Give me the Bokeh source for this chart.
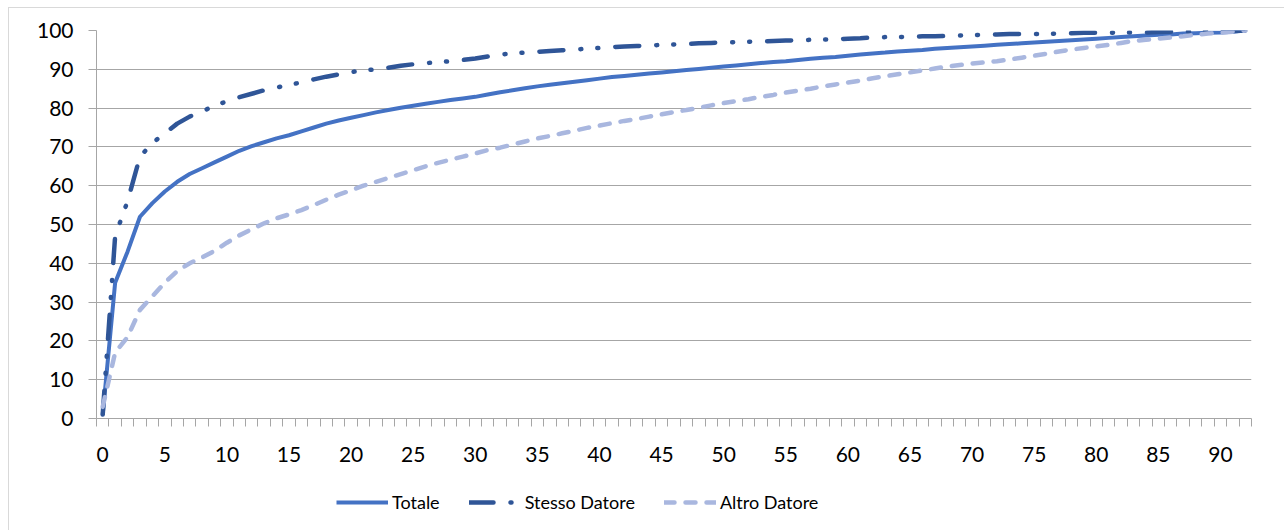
from bokeh.plotting import figure
from bokeh.models import Range1d, FixedTicker, Legend, LegendItem
from bokeh.layouts import column
from bokeh.embed import file_html
from bokeh.resources import INLINE

anni = list(range(0, 93))

totale = [1, 35, 43, 52, 55.5, 58.5, 61, 63, 64.5, 66, 67.5, 69, 70.2, 71.2, 72.2, 73, 74, 75, 76, 76.8,
          77.5, 78.2, 78.9, 79.5, 80.1, 80.6, 81.1, 81.6, 82.1, 82.5, 82.9, 83.5, 84.1, 84.6, 85.1, 85.6, 86, 86.4, 86.8, 87.2,
          87.6, 88, 88.3, 88.6, 88.9, 89.2, 89.5, 89.8, 90.1, 90.4, 90.7, 91, 91.3, 91.6, 91.9, 92.1, 92.4, 92.7, 93, 93.2,
          93.5, 93.8, 94.1, 94.3, 94.6, 94.8, 95, 95.3, 95.5, 95.7, 95.9, 96.1, 96.3, 96.5, 96.7, 96.9, 97.1, 97.3, 97.5, 97.7,
          97.9, 98.1, 98.3, 98.5, 98.7, 98.9, 99, 99.2, 99.3, 99.4, 99.5, 99.7, 100]

stesso_datore = [1, 47, 56, 67.5, 71, 73.5, 76, 77.8, 79.2, 80.5, 81.8, 82.8, 83.7, 84.6, 85.3, 86, 86.6, 87.4, 88.1, 88.7,
                 89.3, 89.7, 90, 90.4, 90.9, 91.3, 91.6, 91.8, 92.1, 92.4, 92.8, 93.3, 93.8, 94.1, 94.3, 94.5, 94.7, 94.9, 95.1, 95.3,
                 95.5, 95.7, 95.9, 96, 96.1, 96.3, 96.4, 96.5, 96.7, 96.8, 96.9, 97, 97.1, 97.2, 97.3, 97.4, 97.5, 97.6, 97.7, 97.7,
                 97.9, 98, 98.2, 98.3, 98.3, 98.4, 98.5, 98.5, 98.6, 98.7, 98.8, 98.9, 99, 99.1, 99.1, 99.1, 99.1, 99.2, 99.3, 99.4,
                 99.4, 99.4, 99.5, 99.5, 99.5, 99.6, 99.7, 99.7, 99.7, 99.8, 99.8, 99.9, 100]

altro_datore = [3, 17, 21, 28, 31.5, 35, 38, 40, 41.5, 43.2, 45.3, 47.2, 48.8, 50.3, 51.6, 52.6, 53.7, 55, 56.4, 57.7,
                58.8, 60, 61, 62, 63, 64, 65, 65.9, 66.7, 67.5, 68.3, 69.2, 69.8, 70.6, 71.4, 72.2, 72.8, 73.5, 74.2, 74.9,
                75.5, 76.1, 76.7, 77.2, 77.8, 78.4, 79, 79.5, 80.1, 80.7, 81.3, 81.8, 82.3, 82.9, 83.4, 84, 84.5, 85, 85.6, 86.1,
                86.6, 87.1, 87.7, 88.2, 88.7, 89.2, 89.7, 90.2, 90.7, 91.1, 91.5, 91.8, 92.1, 92.5, 93, 93.5, 94, 94.6, 95.1, 95.5,
                95.9, 96.3, 96.8, 97.3, 97.6, 97.9, 98.2, 98.5, 98.9, 99.2, 99.4, 99.7, 100]

x_labels = list(range(0, 91, 5))
y_ticks = list(range(0, 101, 10))
serie_nomi = ["Totale", "Stesso Datore", "Altro Datore"]

FONT = "Lato"
GRID = "#a6a6a6"
C_TOT = "#4472C4"
C_STE = "#2F5597"
C_ALT = "#A9B7DF"
DASH_STE = "24 17 1 16 1 17"
DASH_ALT = "10 11"
W_TOT, W_STE, W_ALT = 4, 4.5, 4.5

p = figure(width=1275, height=456, output_backend="svg", toolbar_location=None,
           x_range=Range1d(-0.5, len(anni) - 0.5), y_range=Range1d(0, 100),
           min_border_left=87, min_border_right=33, min_border_top=22, min_border_bottom=42)
p.outline_line_color = None
p.background_fill_color = "white"
p.border_fill_color = "white"

p.xgrid.grid_line_color = None
p.ygrid.grid_line_color = GRID
p.ygrid.grid_line_width = 1

p.xaxis.ticker = FixedTicker(ticks=x_labels, minor_ticks=[a - 0.5 for a in anni] + [anni[-1] + 0.5])
p.xaxis.major_tick_out = 0
p.xaxis.major_tick_in = 0
p.xaxis.minor_tick_out = 8
p.xaxis.minor_tick_in = 0
p.xaxis.minor_tick_line_color = GRID
p.xaxis.axis_line_color = GRID
p.xaxis.major_label_standoff = 20

p.yaxis.ticker = FixedTicker(ticks=y_ticks)
p.yaxis.major_tick_out = 8
p.yaxis.major_tick_in = 0
p.yaxis.minor_tick_line_color = None
p.yaxis.major_tick_line_color = GRID
p.yaxis.axis_line_color = GRID
p.yaxis.major_label_standoff = 15

for ax in (p.xaxis, p.yaxis):
    ax.major_label_text_font = FONT
    ax.major_label_text_font_size = "21px"
    ax.major_label_text_color = "#000000"

p.line(anni, totale, line_color=C_TOT, line_width=W_TOT, line_join="round")
p.line(anni, stesso_datore, line_color=C_STE, line_width=W_STE, line_dash=DASH_STE,
       line_cap="round", line_join="round")
p.line(anni, altro_datore, line_color=C_ALT, line_width=W_ALT, line_dash=DASH_ALT,
       line_cap="round", line_join="round")

# legend figure below the chart (renderers lie outside its visible ranges)
p2 = figure(width=1275, height=66, output_backend="svg", toolbar_location=None,
            x_axis_type=None, y_axis_type=None, x_range=Range1d(0, 1), y_range=Range1d(0, 1),
            min_border_left=0, min_border_right=0, min_border_top=0, min_border_bottom=0)
p2.outline_line_color = None
p2.grid.grid_line_color = None
hidden = [-10, -9]
g1 = p2.line(hidden, hidden, line_color=C_TOT, line_width=W_TOT)
g2 = p2.line(hidden, hidden, line_color=C_STE, line_width=W_STE, line_dash=DASH_STE, line_cap="round")
g3 = p2.line(hidden, hidden, line_color=C_ALT, line_width=W_ALT, line_dash=DASH_ALT, line_cap="round")

legend = Legend(items=[LegendItem(label=serie_nomi[0], renderers=[g1]),
                       LegendItem(label=serie_nomi[1], renderers=[g2]),
                       LegendItem(label=serie_nomi[2], renderers=[g3])],
                orientation="horizontal", location=(240, 17),
                glyph_width=52, glyph_height=20, label_standoff=4, spacing=29,
                label_text_font=FONT, label_text_font_size="18px", label_text_color="#000000",
                border_line_color=None, background_fill_alpha=0, padding=5, margin=0)
p2.add_layout(legend, "center")

layout = column(p, p2, spacing=0, margin=(7, 0, 0, 8),
                styles={"border-left": "1px solid #d9d9d9", "border-top": "1px solid #d9d9d9"})

open("out.html", "w").write(file_html(layout, INLINE))
